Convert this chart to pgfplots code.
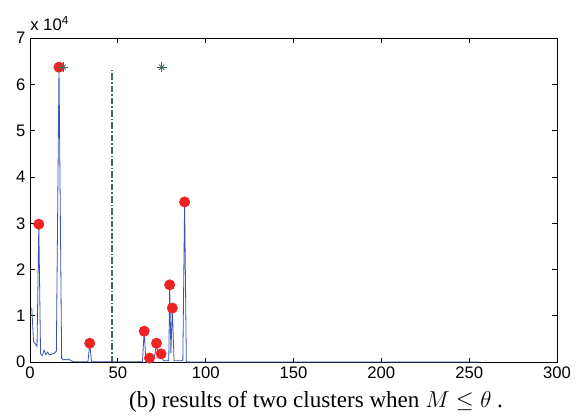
\documentclass[border=0pt]{standalone}
\usepackage{pgfplots}
\pgfplotsset{compat=1.18}
\usepackage{fontspec}
\setmainfont{Liberation Serif}
\newfontfamily\arial{Liberation Sans}

\definecolor{curveblue}{RGB}{55,85,180}
\definecolor{dotred}{RGB}{240,35,35}
\definecolor{cutgreen}{RGB}{65,108,92}

\begin{document}
\begin{tikzpicture}
\begin{axis}[
    scale only axis,
    width=395pt, height=243pt,
    xmin=0, xmax=300, ymin=0, ymax=70000,
    xtick={0,50,...,300},
    ytick={0,10000,...,70000},
    tick align=inside,
    major tick length=3.5pt,
    axis line style={line width=0.7pt},
    tick style={line width=0.6pt, black},
    scaled y ticks=base 10:-4,
    ytick scale label code/.code={x 10\textsuperscript{4}},
    every y tick scale label/.style={at={(rel axis cs:0,1)}, anchor=base west,
      inner sep=0pt, yshift=6pt, font=\arial\fontsize{12.5}{14}\selectfont},
    /pgf/number format/assume math mode=true,
    ticklabel style={font=\arial\fontsize{12.5}{14}\selectfont},
    clip=false,
]
% spectrum curve
\addplot[curveblue, line width=0.6pt, mark=none] coordinates {
 (1,11700) (2,4500) (3,4000) (4,3400) (5,29800) (6,1800) (7,1400) (8,2600)
 (9,1600) (10,2200) (11,1600) (12,1700) (13,1800) (14,2000) (15,2400)
 (16.5,63700) (18,800) (19,500) (20,600) (21,500) (22,700) (23,400) (24,200)
 (25,100) (26,80) (33,80) (34,4100) (35,80) (64,80) (65,6700) (66,150)
 (67,300) (68,900) (69,200) (70,300) (71,1500) (72,4100) (73,1200) (74.6,1800)
 (75.5,800) (76,300) (78,300) (79,400) (79.5,16700) (80.2,2000) (81,11700)
 (82,300) (86,300) (87,400) (88,34600) (89,100) (90,50) (256,50)
};
% cluster peaks
\addplot[only marks, mark=*, mark size=3.9pt, dotred, mark options={draw=dotred, fill=dotred}] coordinates {
 (5,29800) (16.5,63700) (34,4100) (65,6700) (68,900) (72,4100) (74.6,1800)
 (79.5,16700) (81,11700) (88,34600)
};
% cluster centres (MATLAB-style star: plus and cross)
\addplot[only marks, mark=+, mark size=3.6pt, cutgreen, mark options={line width=0.6pt}] coordinates {
 (18.8,63700) (75,63700)
};
\addplot[only marks, mark=x, mark size=2.8pt, cutgreen, mark options={line width=0.6pt}] coordinates {
 (18.8,63700) (75,63700)
};
% threshold
\addplot[cutgreen, line width=1.5pt, dash pattern=on 5pt off 1.5pt on 1.2pt off 1.5pt] coordinates {
 (46.7,0) (46.7,63500)
};
\end{axis}
\node[anchor=base, font=\fontsize{17.3}{20}\selectfont]
  at ([xshift=16.9pt, yshift=-33.75pt]current axis.south)
  {(b) results of two clusters when $M \leq \theta$ .};
\path ([xshift=-22.5pt, yshift=-40.5pt]current axis.south west)
  rectangle ([xshift=15.75pt, yshift=28.5pt]current axis.north east);
\end{tikzpicture}
\end{document}
